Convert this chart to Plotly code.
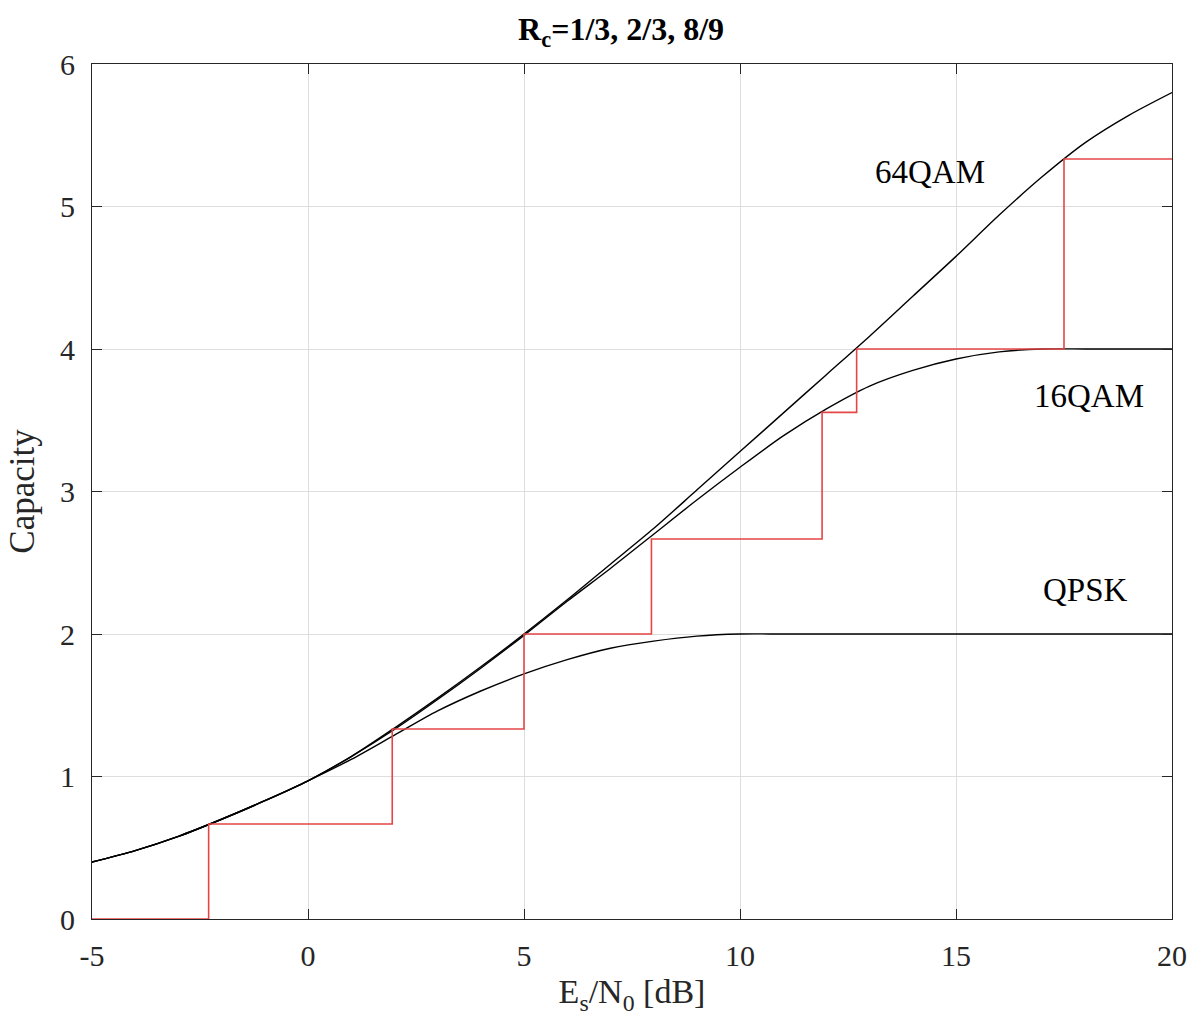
import plotly.graph_objects as go

# Es/N0 grid (dB) for the constellation-constrained capacity curves
snr_db = [-5, -4, -3, -2, -1, 0, 1, 2, 3, 4, 5, 6, 7, 8, 9, 10,
          11, 12, 13, 14, 15, 16, 17, 18, 19, 20]

cap_qpsk = [0.40, 0.48, 0.58, 0.70, 0.83, 0.97, 1.12, 1.29, 1.46, 1.60,
            1.72, 1.82, 1.90, 1.95, 1.985, 2.00, 2.00, 2.00, 2.00, 2.00,
            2.00, 2.00, 2.00, 2.00, 2.00, 2.00]

cap_16qam = [0.40, 0.48, 0.58, 0.70, 0.83, 0.97, 1.14, 1.33, 1.54, 1.76,
             1.99, 2.23, 2.46, 2.70, 2.94, 3.17, 3.39, 3.58, 3.74, 3.85,
             3.93, 3.98, 4.00, 4.00, 4.00, 4.00]

cap_64qam = [0.40, 0.48, 0.58, 0.70, 0.83, 0.97, 1.14, 1.34, 1.55, 1.77,
             2.00, 2.24, 2.49, 2.74, 3.01, 3.28, 3.55, 3.82, 4.09, 4.37,
             4.65, 4.94, 5.21, 5.45, 5.64, 5.80]

# Adaptive modulation and coding: switching thresholds and spectral efficiency
amc_snr = [-5, -2.3, 1.95, 5.0, 7.95, 11.9, 12.7, 17.5, 20]
amc_rate = [0, 2 / 3, 4 / 3, 2, 8 / 3, 32 / 9, 4, 16 / 3, 16 / 3]

curve_labels = ["64QAM", "16QAM", "QPSK"]

x_ticks = [-5, 0, 5, 10, 15, 20]
x_tick_text = ["-5", "0", "5", "10", "15", "20"]
y_ticks = [0, 1, 2, 3, 4, 5, 6]

FONT = "Liberation Serif, Times New Roman, serif"
AXIS = "#262626"
GRID = "#dedede"

fig = go.Figure()

for ys in (cap_qpsk, cap_16qam, cap_64qam):
    fig.add_trace(go.Scatter(
        x=snr_db, y=ys, mode="lines",
        line=dict(color="black", width=1.4, shape="spline", smoothing=0.8),
        showlegend=False, hoverinfo="skip",
    ))

fig.add_trace(go.Scatter(
    x=amc_snr, y=amc_rate, mode="lines",
    line=dict(color="rgb(228,70,70)", width=1.6, shape="hv"),
    showlegend=False, hoverinfo="skip",
))

# curve name labels
label_pos = [(14.39, 5.24), (18.08, 3.67), (17.99, 2.31)]
for name, (lx, ly) in zip(curve_labels, label_pos):
    fig.add_annotation(x=lx, y=ly, text=name, showarrow=False,
                       font=dict(family=FONT, size=33, color="black"),
                       xanchor="center", yanchor="middle")

axis_common = dict(
    showline=True, linecolor=AXIS, linewidth=1.2, mirror="ticks",
    ticks="inside", ticklen=10, tickwidth=1.2, tickcolor=AXIS,
    showgrid=True, gridcolor=GRID, gridwidth=1,
    zeroline=False,
    tickfont=dict(family=FONT, size=30, color="#262626"),
)

fig.update_xaxes(
    range=[-5, 20], tickvals=x_ticks, ticktext=x_tick_text,
    ticklabelstandoff=10,
    title=dict(text="E<sub>s</sub>/N<sub>0</sub> [dB]",
               font=dict(family=FONT, size=34, color="#262626"), standoff=8),
    **axis_common,
)
fig.update_yaxes(
    range=[0, 6], tickvals=y_ticks,
    ticklabelstandoff=10,
    title=dict(text="Capacity",
               font=dict(family=FONT, size=35, color="#262626"), standoff=14),
    **axis_common,
)

fig.update_layout(
    width=1199, height=1026,
    margin=dict(l=92, r=22, t=64, b=107),
    paper_bgcolor="white", plot_bgcolor="white",
    title=dict(text="<b>R<sub>c</sub>=1/3, 2/3, 8/9</b>",
               font=dict(family=FONT, size=32, color="black"),
               x=0.518, xanchor="center", y=0.972, yanchor="middle"),
)

fig.write_html("out.html")
